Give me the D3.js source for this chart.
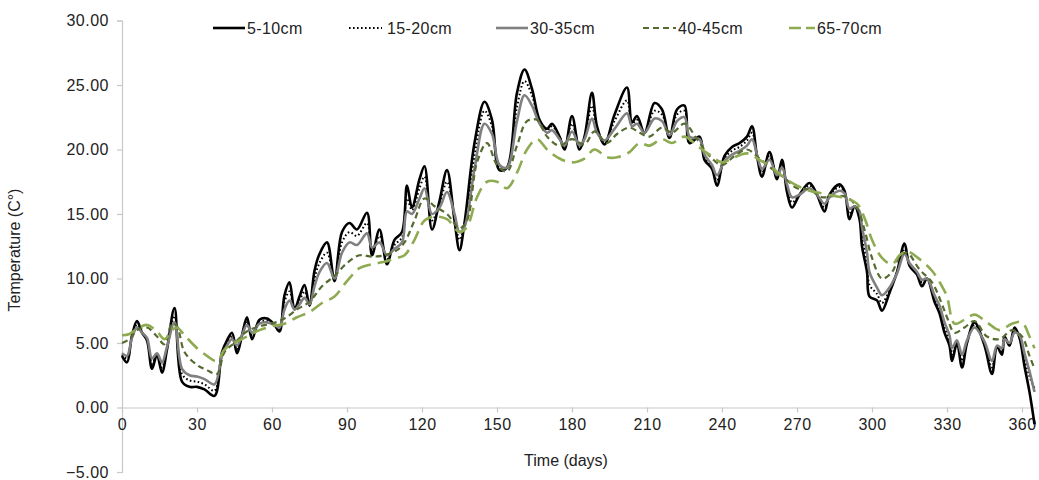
<!DOCTYPE html>
<html>
<head>
<meta charset="utf-8">
<script src="https://cdn.jsdelivr.net/npm/d3@7"></script>
<style>
    body { margin: 0; background: #fff; }
    text { font-family: Arial, "Liberation Sans", sans-serif; fill: #222; }
</style>
</head>
<body>
<svg id="chart" width="1039" height="480"></svg>
<script>

// shallow series
let days = [0,2,4,6,8,10,12,14,16,18,21,24,27,30,33,37,40,42,44,46,48,50,52,55,58,61,63,65,67,69,71,73,75,77,79,82,85,88,91,94,98,100,103,106,109,112,114,116,119,121,124,127,130,133,135,137,141,145,148,151,154,158,161,164,167,170,172,175,177,180,183,185,188,190,193,197,202,204,206,209,213,216,219,222,225,227,231,233,236,238,241,244,247,250,252,254,256,259,262,264,266,268,271,275,278,281,283,287,289,291,293,295,296,298,299,302,304,307,310,313,315,318,320,322,325,327,329,331,332,334,336,338,341,345,348,350,352,353,355,357,359,361,363,365];

let t5_10 = [4.0,3.5,5.6,6.7,5.8,5.2,3.0,4.1,2.7,4.5,7.7,2.0,1.6,1.6,1.4,0.9,4.3,5.2,5.8,4.2,5.6,7.0,5.3,6.8,6.9,6.4,5.9,8.7,9.7,7.6,8.6,9.5,7.9,10.6,11.9,12.8,9.8,13.6,14.3,13.8,15.1,11.8,13.8,11.1,13.0,13.6,17.2,15.5,17.7,18.7,13.8,16.0,18.4,14.5,12.2,14.3,20.5,23.7,22.3,18.4,18.6,24.4,26.2,24.7,22.3,21.6,22.0,21.0,20.0,22.6,20.0,21.0,24.4,21.8,20.4,22.7,24.8,22.1,22.6,21.3,23.6,23.1,20.9,23.1,23.4,20.5,21.0,19.2,18.5,17.2,19.5,20.2,20.5,21.0,21.8,19.5,17.9,19.8,17.7,19.2,16.7,15.5,16.5,17.4,16.5,15.2,16.5,17.3,16.8,14.6,15.6,14.6,12.5,10.5,8.6,8.3,7.5,8.9,10.5,12.7,11.0,10.3,9.4,10.0,8.2,7.3,5.8,4.8,3.6,5.0,3.1,5.0,6.6,4.8,2.6,4.7,4.1,5.5,4.8,6.2,5.4,3.2,1.2,-1.3];

let t15_20 = [4.1,3.8,5.5,6.4,5.8,5.3,3.4,4.1,3.1,4.6,7.1,2.6,2.1,2.0,1.8,1.3,4.2,5.0,5.5,4.5,5.6,6.7,5.6,6.6,6.7,6.4,6.0,8.2,9.0,7.7,8.3,9.0,8.0,10.0,11.2,12.0,10.0,12.8,13.6,13.3,14.3,12.2,13.3,11.5,12.6,13.2,16.2,15.3,17.0,17.9,14.5,15.8,17.5,14.8,13.0,14.2,19.5,23.0,21.8,18.6,18.6,23.3,25.3,24.2,22.2,21.5,21.8,21.0,20.2,22.0,20.2,20.9,23.4,21.6,20.6,22.2,23.8,22.0,22.3,21.3,23.0,22.7,21.0,22.7,23.0,20.8,20.9,19.4,18.6,17.6,19.3,19.9,20.2,20.7,21.3,19.6,18.2,19.5,17.9,18.9,17.0,15.9,16.5,17.2,16.5,15.5,16.4,17.1,16.7,15.0,15.6,14.9,13.2,11.2,9.5,8.8,8.1,9.1,10.5,12.3,11.1,10.4,9.7,10.0,8.5,7.6,6.2,5.2,4.1,5.1,3.6,5.1,6.4,5.0,3.1,4.7,4.3,5.4,4.9,6.0,5.5,3.8,2.4,1.5];

let t30_35 = [4.2,4.0,5.4,6.2,5.8,5.4,3.8,4.2,3.5,4.7,6.6,3.0,2.5,2.4,2.2,1.8,4.0,4.8,5.3,4.8,5.6,6.4,5.8,6.5,6.6,6.4,6.2,7.6,8.3,7.6,8.0,8.5,8.0,9.4,10.5,11.2,10.0,12.0,12.8,12.6,13.5,12.4,12.8,11.8,12.3,12.8,15.2,15.0,16.2,17.0,15.0,15.5,16.7,15.0,13.6,14.0,18.5,22.0,21.2,18.8,18.6,22.2,24.2,23.4,22.0,21.3,21.5,20.8,20.3,21.4,20.3,20.8,22.4,21.3,20.7,21.6,22.8,21.8,22.0,21.3,22.4,22.2,21.1,22.2,22.5,21.0,20.8,19.6,18.8,18.0,19.1,19.6,19.9,20.3,20.8,19.6,18.5,19.2,18.0,18.6,17.3,16.3,16.5,17.0,16.5,15.8,16.3,16.8,16.6,15.4,15.6,15.2,14.0,12.0,10.5,9.3,8.7,9.3,10.4,11.9,11.2,10.5,9.9,10.0,8.7,7.9,6.6,5.6,4.6,5.2,4.1,5.2,6.2,5.1,3.6,4.8,4.6,5.3,5.0,5.8,5.6,4.2,2.8,1.2];

// deeper series are smoother, read at a wider step
let daysDeep = [0,3,6,10,14,17,20,22,25,30,34,38,41,45,50,55,60,65,70,75,80,85,90,95,100,105,110,113,117,121,125,130,135,138,142,146,150,154,158,162,166,170,175,180,185,189,194,198,203,207,211,216,220,225,230,235,240,245,250,255,260,265,270,275,280,285,290,294,297,300,304,308,311,314,319,324,328,330,333,337,341,346,351,356,360,363,365];

let t40_45 = [5.0,5.3,6.0,6.2,5.5,4.9,6.5,6.3,4.3,3.3,2.9,2.6,4.3,5.0,5.9,6.3,6.5,6.9,7.6,8.2,9.4,10.2,11.2,11.8,11.7,11.8,12.2,12.8,14.5,16.2,15.6,15.0,13.9,14.5,19.0,20.5,18.8,18.3,20.3,22.2,22.3,21.0,20.3,20.8,20.4,21.4,20.5,21.2,21.7,21.3,21.0,21.7,21.3,22.0,20.8,19.5,18.8,19.5,20.0,19.3,18.5,17.8,17.0,16.9,16.3,16.4,16.3,15.5,13.8,11.6,10.0,10.5,11.7,12.0,10.7,9.7,8.0,7.0,5.8,6.2,6.7,5.5,5.3,6.0,5.5,4.0,3.0];

let t65_70 = [5.6,5.7,6.1,6.4,5.9,5.3,6.0,6.2,5.6,4.6,4.0,3.6,4.5,5.0,5.5,6.0,6.3,6.5,7.0,7.4,8.1,8.6,9.8,10.8,11.1,11.3,11.6,11.8,13.0,14.5,14.8,14.6,13.6,14.0,16.3,17.5,17.5,17.0,18.2,20.0,20.8,20.0,19.3,19.0,19.3,20.0,19.4,19.4,19.8,20.5,20.3,20.8,20.5,21.0,20.3,19.6,19.0,19.4,19.7,19.2,18.6,17.8,17.2,16.8,16.6,16.4,16.2,15.8,14.7,13.0,11.6,11.1,11.8,12.1,11.5,10.6,9.4,8.6,6.5,6.8,7.2,6.6,6.0,6.5,6.6,5.5,4.6];

let seriesNames = ["5-10cm", "15-20cm", "30-35cm", "40-45cm", "65-70cm"];
let yTicks = [-5, 0, 5, 10, 15, 20, 25, 30];
let xTicks = [0, 30, 60, 90, 120, 150, 180, 210, 240, 270, 300, 330, 360];

let styles = [
    {color: "#000000", width: 2.6, dash: null},
    {color: "#000000", width: 2, dash: "1.6,2.4"},
    {color: "#808080", width: 2.6, dash: null},
    {color: "#556b2f", width: 2.2, dash: "6,4"},
    {color: "#8fab52", width: 2.6, dash: "14,7"}
];

let series = [
    {x: days, y: t5_10},
    {x: days, y: t15_20},
    {x: days, y: t30_35},
    {x: daysDeep, y: t40_45},
    {x: daysDeep, y: t65_70}
];

let svg = d3.select("#chart");

let xScale = d3.scaleLinear()
    .domain([0, 366])
    .range([122, 1037]);
let yScale = d3.scaleLinear()
    .domain([-5, 30])
    .range([472, 20.5]);

// y axis on the left
let yAxis = d3.axisLeft(yScale)
    .tickValues(yTicks)
    .tickSize(5)
    .tickPadding(8)
    .tickFormat(d3.format(".2f"));
let yG = svg.append("g")
    .attr("transform", "translate(" + xScale(0) + ",0)")
    .call(yAxis);

// x axis sits on the zero line
let xAxis = d3.axisBottom(xScale)
    .tickValues(xTicks)
    .tickSize(5)
    .tickPadding(6)
    .tickSizeOuter(0);
let xG = svg.append("g")
    .attr("transform", "translate(0," + yScale(0) + ")")
    .call(xAxis);

[yG, xG].forEach(function (g) {
    g.select(".domain").attr("stroke", "#c8c8c8").attr("stroke-width", 1.2);
    g.selectAll(".tick line").attr("stroke", "#c8c8c8").attr("stroke-width", 1.2);
    g.selectAll(".tick text")
        .style("font-size", "16px")
        .style("letter-spacing", "0.5px")
        .attr("fill", "#222");
});

let line = d3.line()
    .curve(d3.curveCatmullRom.alpha(0.5));

series.forEach(function (s, i) {
    let pts = s.x.map(function (d, j) {
        return [xScale(d), yScale(s.y[j])];
    });
    svg.append("path")
        .attr("d", line(pts))
        .attr("fill", "none")
        .attr("stroke", styles[i].color)
        .attr("stroke-width", styles[i].width)
        .attr("stroke-dasharray", styles[i].dash)
        .attr("stroke-linejoin", "round");
});

// legend
let legendX = [213, 349, 496, 643, 789];
let legendW = [32, 33, 32, 33, 26];
let legend = svg.append("g");
seriesNames.forEach(function (name, i) {
    legend.append("line")
        .attr("x1", legendX[i])
        .attr("x2", legendX[i] + legendW[i])
        .attr("y1", 28)
        .attr("y2", 28)
        .attr("stroke", styles[i].color)
        .attr("stroke-width", styles[i].width)
        .attr("stroke-dasharray", i == 4 ? "12,5" : styles[i].dash);
    legend.append("text")
        .attr("x", legendX[i] + legendW[i] + (i == 1 ? 5 : 2))
        .attr("y", 28)
        .attr("dy", "0.35em")
        .style("font-size", "16px")
        .style("letter-spacing", "0.4px")
        .text(name);
});

// axis titles
svg.append("text")
    .attr("x", 566)
    .attr("y", 466)
    .attr("text-anchor", "middle")
    .style("font-size", "16px")
    .text("Time (days)");

svg.append("text")
    .attr("transform", "translate(20,250) rotate(-90)")
    .attr("text-anchor", "middle")
    .style("font-size", "16px")
    .text("Temperature (C°)");

</script>
</body>
</html>
